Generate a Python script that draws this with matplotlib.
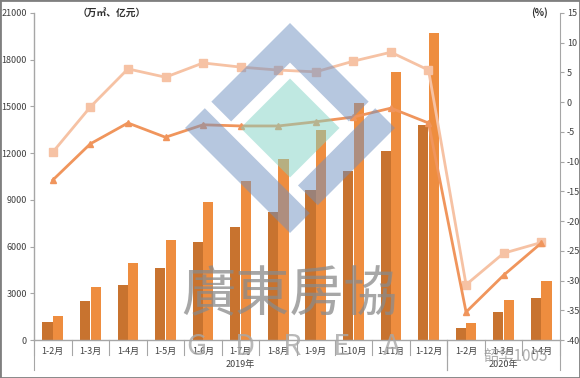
import numpy as np
import matplotlib
matplotlib.use('Agg')
import matplotlib.pyplot as plt
from matplotlib.patches import Polygon, Rectangle
from matplotlib.transforms import blended_transform_factory

plt.rcParams['font.family'] = ['Noto Sans CJK SC', 'DejaVu Sans']

# 数据
cats = ['1-2月', '1-3月', '1-4月', '1-5月', '1-6月', '1-7月', '1-8月', '1-9月',
        '1-10月', '1-11月', '1-12月', '1-2月', '1-3月', '1-4月']
years = ['2019年', '2020年']
year_sizes = [11, 3]
area = [1170, 2500, 3550, 4600, 6290, 7260, 8220, 9630, 10850, 12140, 13810, 750, 1800, 2700]
amount = [1560, 3390, 4920, 6420, 8860, 10210, 11620, 13490, 15220, 17210, 19720, 1070, 2550, 3770]
area_growth = [-13.1, -7.0, -3.5, -5.9, -3.8, -4.0, -4.0, -3.3, -2.5, -1.0, -3.5, -35.3, -29.1, -23.7]
amount_growth = [-8.4, -0.8, 5.6, 4.2, 6.6, 5.9, 5.4, 5.1, 6.9, 8.4, 5.4, -30.7, -25.4, -23.6]
left_ticks = list(range(0, 21001, 3000))
right_ticks = list(range(-40, 16, 5))

dark_bar = '#C8732F'
light_bar = '#EE8D3F'
dark_line = '#F0955C'
light_line = '#F6C2A4'
axis_gray = '#A6A6A6'
txt = '#404040'

W, H = 580, 378
fig = plt.figure(figsize=(W / 100, H / 100), dpi=100)
ax = fig.add_axes([34 / W, 1 - 340 / H, (560 - 34) / W, (340 - 13) / H])

x = np.arange(len(cats))
bw = 0.27
ax.bar(x - 0.14, area, bw, color=dark_bar, zorder=2)
ax.bar(x + 0.14, amount, bw, color=light_bar, zorder=2)
ax.set_xlim(-0.5, len(cats) - 0.5)
ax.set_ylim(0, 21000)
ax.set_yticks(left_ticks)
ax.set_yticklabels([str(t) for t in left_ticks], fontsize=6.5, color=txt)
ax.set_xticks(x)
ax.set_xticklabels(cats, fontsize=6.5, color=txt)
ax.tick_params(axis='x', length=0, pad=5)
ax.tick_params(axis='y', length=3, color=axis_gray, pad=2)
for s in ['top', 'right']:
    ax.spines[s].set_visible(False)
for s in ['left', 'bottom']:
    ax.spines[s].set_color(axis_gray)
    ax.spines[s].set_linewidth(1)

# 两级分类轴
tr = blended_transform_factory(ax.transData, ax.transAxes)
h_px = 327.0
for b in np.arange(-0.5, len(cats), 1.0):
    ax.plot([b, b], [0, -15 / h_px], transform=tr, color=axis_gray, lw=0.8, clip_on=False)
start = -0.5
for yname, n in zip(years, year_sizes):
    for b in (start, start + n):
        ax.plot([b, b], [0, -30 / h_px], transform=tr, color=axis_gray, lw=0.8, clip_on=False)
    ax.text(start + n / 2, -24 / h_px, yname, transform=tr, ha='center', va='center',
            fontsize=6.5, color=txt)
    start += n

ax2 = ax.twinx()
ax2.plot(x, amount_growth, color=light_line, lw=2, marker='s', ms=6,
         markerfacecolor=light_line, markeredgecolor=light_line, zorder=3)
ax2.plot(x, area_growth, color=dark_line, lw=2, marker='^', ms=5,
         markerfacecolor=dark_line, markeredgecolor=dark_line, zorder=3)
ax2.set_ylim(-40, 15)
ax2.set_yticks(right_ticks)
ax2.set_yticklabels([str(t) for t in right_ticks], fontsize=6.5, color=txt)
ax2.tick_params(axis='y', length=3, color=axis_gray, pad=2)
for s in ['top', 'left', 'bottom']:
    ax2.spines[s].set_visible(False)
ax2.spines['right'].set_color(axis_gray)

fig.text(112 / W, 1 - 13 / H, '（万㎡、亿元）', ha='center', va='center',
         fontsize=7, fontweight='bold', color='#303030')
fig.text(539 / W, 1 - 13 / H, '(%)', ha='center', va='center',
         fontsize=7, fontweight='bold', color='#303030')

# 水印
ov = fig.add_axes([0, 0, 1, 1], zorder=5)
ov.set_xlim(0, W)
ov.set_ylim(H, 0)
ov.axis('off')
ov.patch.set_alpha(0)

cx, cy = 290, 128
s = 105 / np.sqrt(2)
w = 28


def uv(pts):
    out = []
    for u, v in pts:
        out.append((cx + (u + v) / np.sqrt(2), cy + (u - v) / np.sqrt(2)))
    return out


blue = '#6F90C0'
L1 = [(-s, -37), (-s, s), (37, s), (37, s - w), (-s + w, s - w), (-s + w, -37)]
C = [(-s, -s), (s, -s), (s, -s + w), (-s, -s + w)]
D = [(s - w, -35), (s, -35), (s, s), (s - w, s)]
for p in (L1, C, D):
    ov.add_patch(Polygon(uv(p), closed=True, color=blue, alpha=0.5, lw=0))
t = 35
ov.add_patch(Polygon(uv([(-t, -t), (t, -t), (t, t), (-t, t)]), closed=True,
                     color='#80D2C4', alpha=0.5, lw=0))

ov.text(290, 296, '廣東房協', ha='center', va='center', fontsize=39,
        family=['Noto Sans CJK TC', 'DejaVu Sans'], color='#8A8A8A', alpha=0.75)
for lx, ch in zip([196, 245, 292, 342, 392], 'GDREA'):
    ov.text(lx, 347, ch, ha='center', va='center', fontsize=21, color='#A8A8A8',
            alpha=0.8, fontweight='light')
ov.text(548, 356, '韶华1005', ha='right', va='center', fontsize=11,
        color='#9A9A9A', alpha=0.8)

fig.patches.append(Rectangle((0, 0), 1, 1, transform=fig.transFigure, fill=False,
                             edgecolor='#7F7F7F', lw=2))

fig.savefig('out.png', dpi=100)
